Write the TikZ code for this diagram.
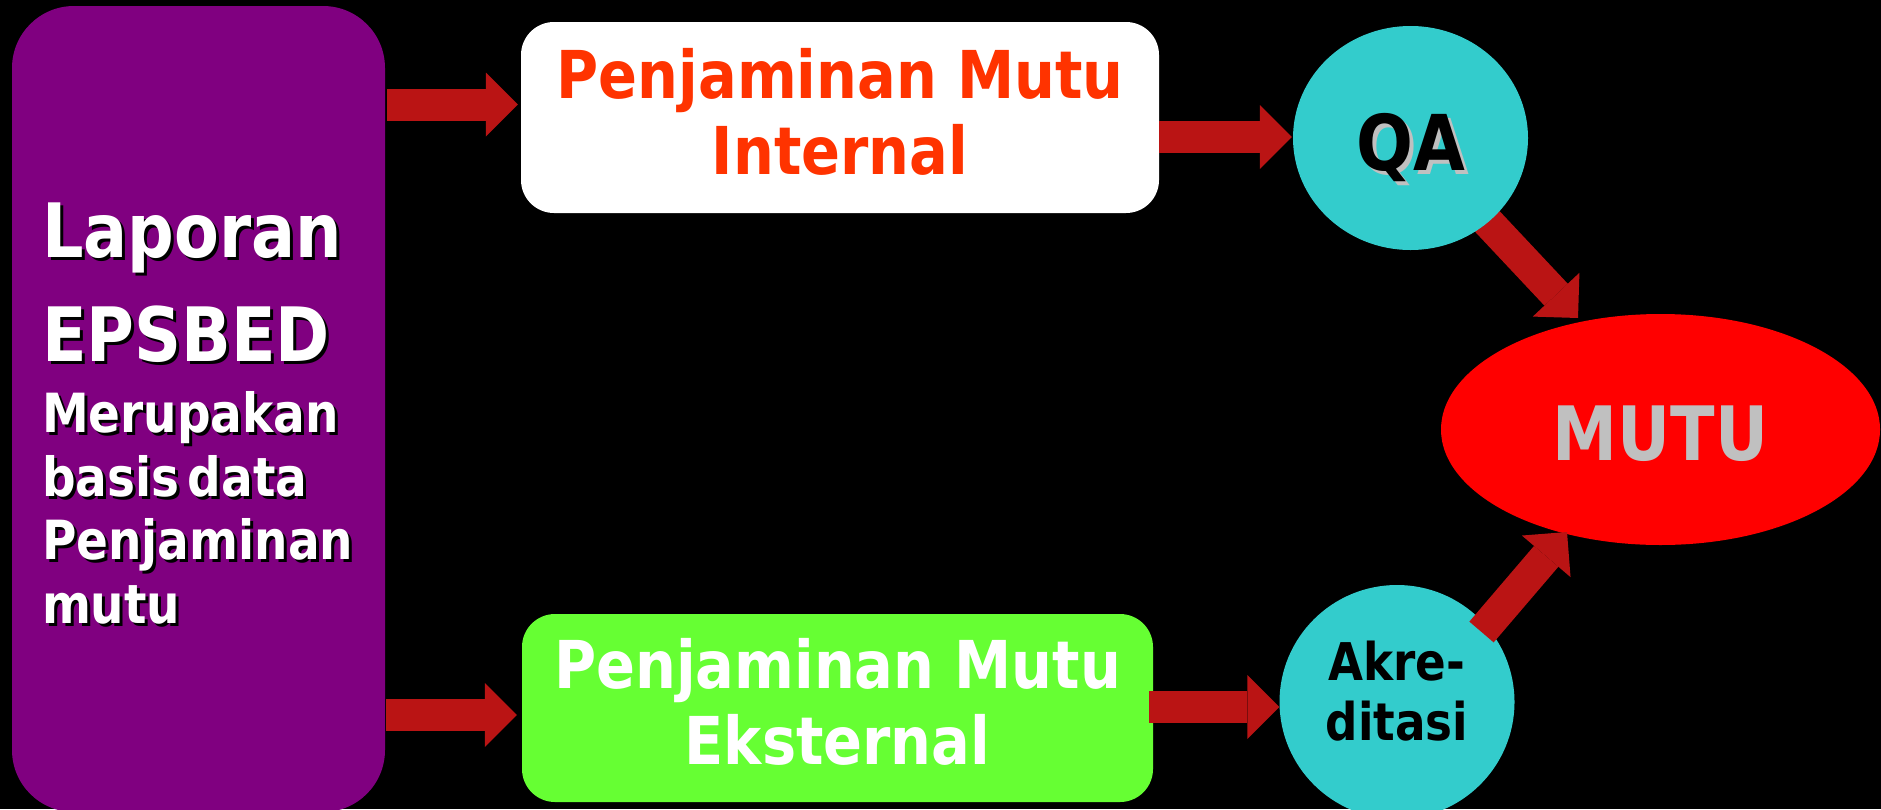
\documentclass[tikz,border=0pt]{standalone}
\usepackage{fontspec}
\setmainfont{DejaVu Sans}[FakeStretch=0.87]
\usetikzlibrary{arrows.meta,shapes.geometric}
\definecolor{purp}{HTML}{800080}
\definecolor{boxgreen}{HTML}{66FF33}
\definecolor{cyanc}{HTML}{33CCCC}
\definecolor{mutured}{HTML}{FF0000}
\definecolor{orangetxt}{HTML}{FF3300}
\definecolor{shgray}{HTML}{C0C0C0}
\definecolor{arrowred}{HTML}{BA1414}
\newcommand\txtshadow[3]{\leavevmode\rlap{\kern#1\raisebox{-#1}{\color{#2}#3}}#3}
\begin{document}
\begin{tikzpicture}[x=1pt,y=-1pt,
  shapebox/.style={rectangle,draw=none,inner sep=0pt,rounded corners=33pt},
  roundshape/.style={ellipse,draw=none,inner sep=0pt},
  fatarrow/.style={draw=arrowred,line width=32pt,
    -{Triangle[length=32pt,width=64pt,line width=0pt]}}]
\useasboundingbox (0,0) rectangle (1881,809);
\fill[black] (0,0) rectangle (1881,809);

% left purple box
\node[shapebox,fill=purp,rounded corners=62pt,minimum width=373pt,minimum height=806pt,
  text width=313pt,align=left,text=white] (lap) at (198.5,409)
  {\hyphenpenalty=10000\exhyphenpenalty=10000
   \fontsize{75}{104}\selectfont\bfseries\leavevmode\rule{0pt}{66.5pt}\txtshadow{3pt}{black}{Laporan}\par
   \txtshadow{3pt}{black}{EPSBED}\par
   \fontsize{54}{71}\selectfont\bfseries\txtshadow{3pt}{black}{Merupakan}\par
   \fontsize{54}{63.5}\selectfont\bfseries\txtshadow{3pt}{black}{basis\ \kern5pt data}\par
   \txtshadow{3pt}{black}{Penjaminan}\par
   \txtshadow{3pt}{black}{mutu}\par};

% internal / external boxes
\node[shapebox,fill=white,minimum width=638pt,minimum height=191pt,align=center,
  text=orangetxt,font=\fontsize{66}{76}\selectfont\bfseries] (pmi) at (840,117.5)
  {\rule{0pt}{52pt}Penjaminan Mutu\\Internal\rule[-15pt]{0pt}{15pt}};
\node[shapebox,fill=boxgreen,minimum width=631pt,minimum height=188pt,align=center,
  text=white,font=\fontsize{66}{76}\selectfont\bfseries] (pme) at (837.5,708)
  {\rule{0pt}{52pt}Penjaminan Mutu\\Eksternal\rule[-15pt]{0pt}{15pt}};

% MUTU
\node[roundshape,fill=mutured,minimum width=439pt,minimum height=231pt,text=shgray,
  font=\fontsize{75}{80}\selectfont\bfseries,text height=61pt,text depth=0pt] (mutu) at (1660.5,429.5) {MUTU};

% arrow coordinates
\coordinate (a1) at (0,104.5);
\coordinate (a2) at (0,715);
\coordinate (a3) at (0,137);
\coordinate (a4) at (0,707);
\coordinate (qaout) at (1470,203);
\coordinate (mutuintop) at (1578,318);
\coordinate (akrout) at (1481.5,632);
\coordinate (mutuinbot) at (1567,532);

% QA
\draw[fatarrow] (qaout) -- (mutuintop);
\node[roundshape,fill=cyanc,minimum width=235pt,minimum height=224pt,text=black,
  font=\fontsize{77}{80}\selectfont\bfseries,text height=79pt,text depth=15pt] (qa) at (1410.5,138)
  {\txtshadow{4pt}{shgray}{QA}};

% Akreditasi
\node[roundshape,fill=cyanc,minimum width=235pt,minimum height=234pt,text=black,align=center,
  font=\fontsize{52}{60}\selectfont\bfseries] (akr) at (1397,702)
  {\rule{0pt}{40pt}Akre-\\ditasi\rule[-24pt]{0pt}{24pt}};

% arrows
\draw[fatarrow] ([xshift=2pt]lap.east |- a1) -- ([xshift=-3pt]pmi.west |- a1);
\draw[fatarrow] ([xshift=1pt]lap.east |- a2) -- ([xshift=-5pt]pme.west |- a2);
\draw[fatarrow] (pmi.east |- a3) -- ([xshift=-1pt]qa.west |- a3);
\draw[fatarrow] ([xshift=-4pt]pme.east |- a4) -- (akr.west |- a4);
\draw[fatarrow] (akrout) -- (mutuinbot);
\end{tikzpicture}
\end{document}
